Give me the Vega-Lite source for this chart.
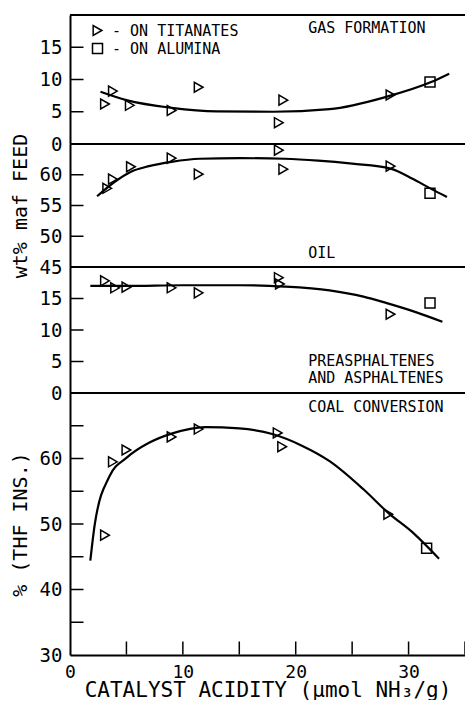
{
  "$schema": "https://vega.github.io/schema/vega-lite/v6.json",
  "padding": {"left": 10, "top": 14, "right": 0, "bottom": 0},
  "background": "white",
  "spacing": 0,
  "bounds": "flush",
  "resolve": {"legend": {"shape": "independent"}},
  "datasets": {
    "points": [
      {"panel": "gas", "x": 3.1, "y": 6.2, "catalyst": "ON TITANATES"},
      {"panel": "gas", "x": 3.8, "y": 8.2, "catalyst": "ON TITANATES"},
      {"panel": "gas", "x": 5.3, "y": 6.0, "catalyst": "ON TITANATES"},
      {"panel": "gas", "x": 9.0, "y": 5.2, "catalyst": "ON TITANATES"},
      {"panel": "gas", "x": 11.4, "y": 8.8, "catalyst": "ON TITANATES"},
      {"panel": "gas", "x": 18.9, "y": 6.8, "catalyst": "ON TITANATES"},
      {"panel": "gas", "x": 18.5, "y": 3.3, "catalyst": "ON TITANATES"},
      {"panel": "gas", "x": 28.4, "y": 7.6, "catalyst": "ON TITANATES"},
      {"panel": "gas", "x": 31.9, "y": 9.6, "catalyst": "ON ALUMINA"},
      {"panel": "oil", "x": 3.3, "y": 57.8, "catalyst": "ON TITANATES"},
      {"panel": "oil", "x": 3.8, "y": 59.3, "catalyst": "ON TITANATES"},
      {"panel": "oil", "x": 5.4, "y": 61.3, "catalyst": "ON TITANATES"},
      {"panel": "oil", "x": 9.0, "y": 62.7, "catalyst": "ON TITANATES"},
      {"panel": "oil", "x": 11.4, "y": 60.1, "catalyst": "ON TITANATES"},
      {"panel": "oil", "x": 18.5, "y": 64.0, "catalyst": "ON TITANATES"},
      {"panel": "oil", "x": 18.9, "y": 60.9, "catalyst": "ON TITANATES"},
      {"panel": "oil", "x": 28.4, "y": 61.4, "catalyst": "ON TITANATES"},
      {"panel": "oil", "x": 31.9, "y": 57.0, "catalyst": "ON ALUMINA"},
      {"panel": "pre", "x": 3.1, "y": 17.8, "catalyst": "ON TITANATES"},
      {"panel": "pre", "x": 4.0, "y": 16.7, "catalyst": "ON TITANATES"},
      {"panel": "pre", "x": 5.0, "y": 16.8, "catalyst": "ON TITANATES"},
      {"panel": "pre", "x": 9.0, "y": 16.7, "catalyst": "ON TITANATES"},
      {"panel": "pre", "x": 11.4, "y": 15.9, "catalyst": "ON TITANATES"},
      {"panel": "pre", "x": 18.5, "y": 18.3, "catalyst": "ON TITANATES"},
      {"panel": "pre", "x": 18.6, "y": 17.3, "catalyst": "ON TITANATES"},
      {"panel": "pre", "x": 28.4, "y": 12.5, "catalyst": "ON TITANATES"},
      {"panel": "pre", "x": 31.9, "y": 14.3, "catalyst": "ON ALUMINA"},
      {"panel": "coal", "x": 3.1, "y": 48.3, "catalyst": "ON TITANATES"},
      {"panel": "coal", "x": 3.8, "y": 59.5, "catalyst": "ON TITANATES"},
      {"panel": "coal", "x": 5.0, "y": 61.3, "catalyst": "ON TITANATES"},
      {"panel": "coal", "x": 9.0, "y": 63.3, "catalyst": "ON TITANATES"},
      {"panel": "coal", "x": 11.4, "y": 64.5, "catalyst": "ON TITANATES"},
      {"panel": "coal", "x": 18.4, "y": 63.9, "catalyst": "ON TITANATES"},
      {"panel": "coal", "x": 18.8, "y": 61.8, "catalyst": "ON TITANATES"},
      {"panel": "coal", "x": 28.2, "y": 51.5, "catalyst": "ON TITANATES"},
      {"panel": "coal", "x": 31.6, "y": 46.3, "catalyst": "ON ALUMINA"}
    ],
    "curves": [
      {"panel": "gas", "x": 2.7, "y": 8.1},
      {"panel": "gas", "x": 5, "y": 6.8},
      {"panel": "gas", "x": 9, "y": 5.6},
      {"panel": "gas", "x": 13, "y": 5.05},
      {"panel": "gas", "x": 18, "y": 5.0},
      {"panel": "gas", "x": 23, "y": 5.4},
      {"panel": "gas", "x": 28, "y": 7.3},
      {"panel": "gas", "x": 32, "y": 9.6},
      {"panel": "gas", "x": 33.6, "y": 10.9},
      {"panel": "oil", "x": 2.4, "y": 56.5},
      {"panel": "oil", "x": 4, "y": 58.9},
      {"panel": "oil", "x": 5.4, "y": 60.5},
      {"panel": "oil", "x": 7, "y": 61.4},
      {"panel": "oil", "x": 9, "y": 62.1},
      {"panel": "oil", "x": 11.5, "y": 62.6},
      {"panel": "oil", "x": 15, "y": 62.7},
      {"panel": "oil", "x": 19, "y": 62.6},
      {"panel": "oil", "x": 22, "y": 62.3},
      {"panel": "oil", "x": 25, "y": 61.8},
      {"panel": "oil", "x": 28.4, "y": 61.0},
      {"panel": "oil", "x": 30.4, "y": 59.3},
      {"panel": "oil", "x": 32, "y": 57.7},
      {"panel": "oil", "x": 33.4, "y": 56.4},
      {"panel": "pre", "x": 1.8, "y": 17.0},
      {"panel": "pre", "x": 5, "y": 17.0},
      {"panel": "pre", "x": 10, "y": 17.1},
      {"panel": "pre", "x": 15, "y": 17.1},
      {"panel": "pre", "x": 19, "y": 16.9},
      {"panel": "pre", "x": 23, "y": 16.3},
      {"panel": "pre", "x": 26, "y": 15.3},
      {"panel": "pre", "x": 28, "y": 14.3},
      {"panel": "pre", "x": 30.7, "y": 12.8},
      {"panel": "pre", "x": 33, "y": 11.3},
      {"panel": "coal", "x": 1.8, "y": 44.4},
      {"panel": "coal", "x": 2.2, "y": 50},
      {"panel": "coal", "x": 3.5, "y": 57.3},
      {"panel": "coal", "x": 5, "y": 60.1},
      {"panel": "coal", "x": 7, "y": 62.4},
      {"panel": "coal", "x": 9, "y": 63.8},
      {"panel": "coal", "x": 12, "y": 64.8},
      {"panel": "coal", "x": 15, "y": 64.6},
      {"panel": "coal", "x": 18, "y": 63.7},
      {"panel": "coal", "x": 20.5, "y": 62},
      {"panel": "coal", "x": 23, "y": 59.6},
      {"panel": "coal", "x": 26, "y": 55.3},
      {"panel": "coal", "x": 28.2, "y": 51.7},
      {"panel": "coal", "x": 30.5, "y": 48.5},
      {"panel": "coal", "x": 32.7, "y": 44.7}
    ],
    "yticks": [
      {"panel": "gas", "v": 5}, {"panel": "gas", "v": 10}, {"panel": "gas", "v": 15},
      {"panel": "oil", "v": 50}, {"panel": "oil", "v": 55}, {"panel": "oil", "v": 60},
      {"panel": "pre", "v": 5}, {"panel": "pre", "v": 10}, {"panel": "pre", "v": 15},
      {"panel": "coal", "v": 35}, {"panel": "coal", "v": 40}, {"panel": "coal", "v": 45}, {"panel": "coal", "v": 50},
      {"panel": "coal", "v": 55}, {"panel": "coal", "v": 60}, {"panel": "coal", "v": 65}
    ],
    "xticks": [
      {"v": 5}, {"v": 10}, {"v": 15}, {"v": 20}, {"v": 25}, {"v": 30}, {"v": 35}
    ]
  },
  "vconcat": [
    {
      "width": 395, "height": 129,
      "layer": [
        {"data": {"name": "curves"}, "transform": [{"filter": "datum.panel == 'gas'"}],
         "mark": {"type": "line", "interpolate": "monotone", "color": "black", "strokeWidth": 2.2},
         "encoding": {
           "x": {"field": "x", "type": "quantitative", "scale": {"domain": [0, 35], "nice": false}, "axis": {"labels": false, "domain": false, "ticks": false, "title": null}},
           "y": {"field": "y", "type": "quantitative", "scale": {"domain": [0, 20], "nice": false}, "axis": {"values": [0, 5, 10, 15], "title": null}}
         }},
        {"data": {"name": "yticks"}, "transform": [{"filter": "datum.panel == 'gas'"}],
         "mark": {"type": "tick", "orient": "horizontal", "color": "black", "size": 13, "thickness": 1.5, "xOffset": 7, "opacity": 1},
         "encoding": {"x": {"datum": 0, "type": "quantitative"}, "y": {"field": "v", "type": "quantitative"}}},
        {"data": {"name": "points"}, "transform": [{"filter": "datum.panel == 'gas'"}],
         "mark": {"type": "point", "filled": false, "color": "black", "size": 100, "strokeWidth": 1.5, "opacity": 1},
         "encoding": {
           "x": {"field": "x", "type": "quantitative"},
           "y": {"field": "y", "type": "quantitative"},
           "shape": {"field": "catalyst", "type": "nominal", "scale": {"domain": ["ON TITANATES", "ON ALUMINA"], "range": ["triangle-right", "square"]},
             "legend": {"orient": "none", "legendX": 20, "legendY": 8, "title": null, "padding": 0, "rowPadding": 1, "labelFont": "DejaVu Sans Mono", "labelFontSize": 15, "labelColor": "black", "labelOffset": 7, "symbolSize": 100, "symbolStrokeWidth": 1.5, "symbolStrokeColor": "black", "labelExpr": "'- ' + datum.label"}}
         }},
        {"data": {"values": [{}]}, "mark": {"type": "text", "align": "left", "baseline": "middle", "font": "DejaVu Sans Mono", "fontSize": 15, "color": "black"},
         "encoding": {"x": {"datum": 21.1, "type": "quantitative"}, "y": {"datum": 18.0, "type": "quantitative"}, "text": {"value": "GAS FORMATION"}}},
        {"data": {"values": [{}]}, "mark": {"type": "rule", "color": "black", "strokeWidth": 2}, "encoding": {"y": {"datum": 20, "type": "quantitative"}}},
        {"data": {"values": [{}]}, "mark": {"type": "rule", "color": "black", "strokeWidth": 2}, "encoding": {"y": {"datum": 0, "type": "quantitative"}}}
      ]
    },
    {
      "width": 395, "height": 123,
      "layer": [
        {"data": {"name": "curves"}, "transform": [{"filter": "datum.panel == 'oil'"}],
         "mark": {"type": "line", "interpolate": "monotone", "color": "black", "strokeWidth": 2.2},
         "encoding": {
           "x": {"field": "x", "type": "quantitative", "scale": {"domain": [0, 35], "nice": false}, "axis": {"labels": false, "domain": false, "ticks": false, "title": null}},
           "y": {"field": "y", "type": "quantitative", "scale": {"domain": [45, 65], "nice": false, "zero": false}, "axis": {"values": [45, 50, 55, 60], "title": "wt% maf FEED"}}
         }},
        {"data": {"name": "yticks"}, "transform": [{"filter": "datum.panel == 'oil'"}],
         "mark": {"type": "tick", "orient": "horizontal", "color": "black", "size": 13, "thickness": 1.5, "xOffset": 7, "opacity": 1},
         "encoding": {"x": {"datum": 0, "type": "quantitative"}, "y": {"field": "v", "type": "quantitative"}}},
        {"data": {"name": "points"}, "transform": [{"filter": "datum.panel == 'oil'"}],
         "mark": {"type": "point", "filled": false, "color": "black", "size": 100, "strokeWidth": 1.5, "opacity": 1},
         "encoding": {
           "x": {"field": "x", "type": "quantitative"},
           "y": {"field": "y", "type": "quantitative"},
           "shape": {"field": "catalyst", "type": "nominal", "scale": {"domain": ["ON TITANATES", "ON ALUMINA"], "range": ["triangle-right", "square"]}, "legend": null}
         }},
        {"data": {"values": [{}]}, "mark": {"type": "text", "align": "left", "baseline": "middle", "font": "DejaVu Sans Mono", "fontSize": 15, "color": "black"},
         "encoding": {"x": {"datum": 21.1, "type": "quantitative"}, "y": {"datum": 47.3, "type": "quantitative"}, "text": {"value": "OIL"}}},
        {"data": {"values": [{}]}, "mark": {"type": "rule", "color": "black", "strokeWidth": 2}, "encoding": {"y": {"datum": 45, "type": "quantitative"}}}
      ]
    },
    {
      "width": 395, "height": 126,
      "layer": [
        {"data": {"name": "curves"}, "transform": [{"filter": "datum.panel == 'pre'"}],
         "mark": {"type": "line", "interpolate": "monotone", "color": "black", "strokeWidth": 2.2},
         "encoding": {
           "x": {"field": "x", "type": "quantitative", "scale": {"domain": [0, 35], "nice": false}, "axis": {"labels": false, "domain": false, "ticks": false, "title": null}},
           "y": {"field": "y", "type": "quantitative", "scale": {"domain": [0, 20], "nice": false}, "axis": {"values": [0, 5, 10, 15], "title": null}}
         }},
        {"data": {"name": "yticks"}, "transform": [{"filter": "datum.panel == 'pre'"}],
         "mark": {"type": "tick", "orient": "horizontal", "color": "black", "size": 13, "thickness": 1.5, "xOffset": 7, "opacity": 1},
         "encoding": {"x": {"datum": 0, "type": "quantitative"}, "y": {"field": "v", "type": "quantitative"}}},
        {"data": {"name": "points"}, "transform": [{"filter": "datum.panel == 'pre'"}],
         "mark": {"type": "point", "filled": false, "color": "black", "size": 100, "strokeWidth": 1.5, "opacity": 1},
         "encoding": {
           "x": {"field": "x", "type": "quantitative"},
           "y": {"field": "y", "type": "quantitative"},
           "shape": {"field": "catalyst", "type": "nominal", "scale": {"domain": ["ON TITANATES", "ON ALUMINA"], "range": ["triangle-right", "square"]}, "legend": null}
         }},
        {"data": {"values": [{}]}, "mark": {"type": "text", "align": "left", "baseline": "middle", "font": "DejaVu Sans Mono", "fontSize": 15, "color": "black"},
         "encoding": {"x": {"datum": 21.1, "type": "quantitative"}, "y": {"datum": 5.1, "type": "quantitative"}, "text": {"value": "PREASPHALTENES"}}},
        {"data": {"values": [{}]}, "mark": {"type": "text", "align": "left", "baseline": "middle", "font": "DejaVu Sans Mono", "fontSize": 15, "color": "black"},
         "encoding": {"x": {"datum": 21.1, "type": "quantitative"}, "y": {"datum": 2.4, "type": "quantitative"}, "text": {"value": "AND ASPHALTENES"}}},
        {"data": {"values": [{}]}, "mark": {"type": "rule", "color": "black", "strokeWidth": 2}, "encoding": {"y": {"datum": 0, "type": "quantitative"}}}
      ]
    },
    {
      "width": 395, "height": 262,
      "layer": [
        {"data": {"name": "curves"}, "transform": [{"filter": "datum.panel == 'coal'"}],
         "mark": {"type": "line", "interpolate": "monotone", "color": "black", "strokeWidth": 2.2},
         "encoding": {
           "x": {"field": "x", "type": "quantitative", "scale": {"domain": [0, 35], "nice": false},
                 "axis": {"values": [0, 10, 20, 30], "labelFlush": false, "title": "CATALYST ACIDITY (μmol NH₃/g)", "titleFontSize": 21, "labelFontSize": 18, "labelPadding": 8, "titlePadding": -2}},
           "y": {"field": "y", "type": "quantitative", "scale": {"domain": [30, 70], "nice": false, "zero": false},
                 "axis": {"values": [30, 40, 50, 60], "title": "% (THF INS.)"}}
         }},
        {"data": {"name": "yticks"}, "transform": [{"filter": "datum.panel == 'coal'"}],
         "mark": {"type": "tick", "orient": "horizontal", "color": "black", "size": 13, "thickness": 1.5, "xOffset": 7, "opacity": 1},
         "encoding": {"x": {"datum": 0, "type": "quantitative"}, "y": {"field": "v", "type": "quantitative"}}},
        {"data": {"name": "xticks"},
         "mark": {"type": "tick", "orient": "vertical", "color": "black", "size": 13, "thickness": 1.5, "yOffset": -7, "opacity": 1},
         "encoding": {"x": {"field": "v", "type": "quantitative"}, "y": {"datum": 30, "type": "quantitative"}}},
        {"data": {"name": "points"}, "transform": [{"filter": "datum.panel == 'coal'"}],
         "mark": {"type": "point", "filled": false, "color": "black", "size": 100, "strokeWidth": 1.5, "opacity": 1},
         "encoding": {
           "x": {"field": "x", "type": "quantitative"},
           "y": {"field": "y", "type": "quantitative"},
           "shape": {"field": "catalyst", "type": "nominal", "scale": {"domain": ["ON TITANATES", "ON ALUMINA"], "range": ["triangle-right", "square"]}, "legend": null}
         }},
        {"data": {"values": [{}]}, "mark": {"type": "text", "align": "left", "baseline": "middle", "font": "DejaVu Sans Mono", "fontSize": 15, "color": "black"},
         "encoding": {"x": {"datum": 21.1, "type": "quantitative"}, "y": {"datum": 67.9, "type": "quantitative"}, "text": {"value": "COAL CONVERSION"}}}
      ]
    }
  ],
  "config": {
    "view": {"stroke": null},
    "font": "DejaVu Sans Mono",
    "axis": {
      "grid": false,
      "ticks": false,
      "domainColor": "black", "domainWidth": 2,
      "labelColor": "black", "labelFont": "DejaVu Sans Mono", "labelFontSize": 19, "labelPadding": 8,
      "titleColor": "black", "titleFont": "DejaVu Sans Mono", "titleFontSize": 20, "titleFontWeight": "normal", "titlePadding": 9
    }
  }
}
